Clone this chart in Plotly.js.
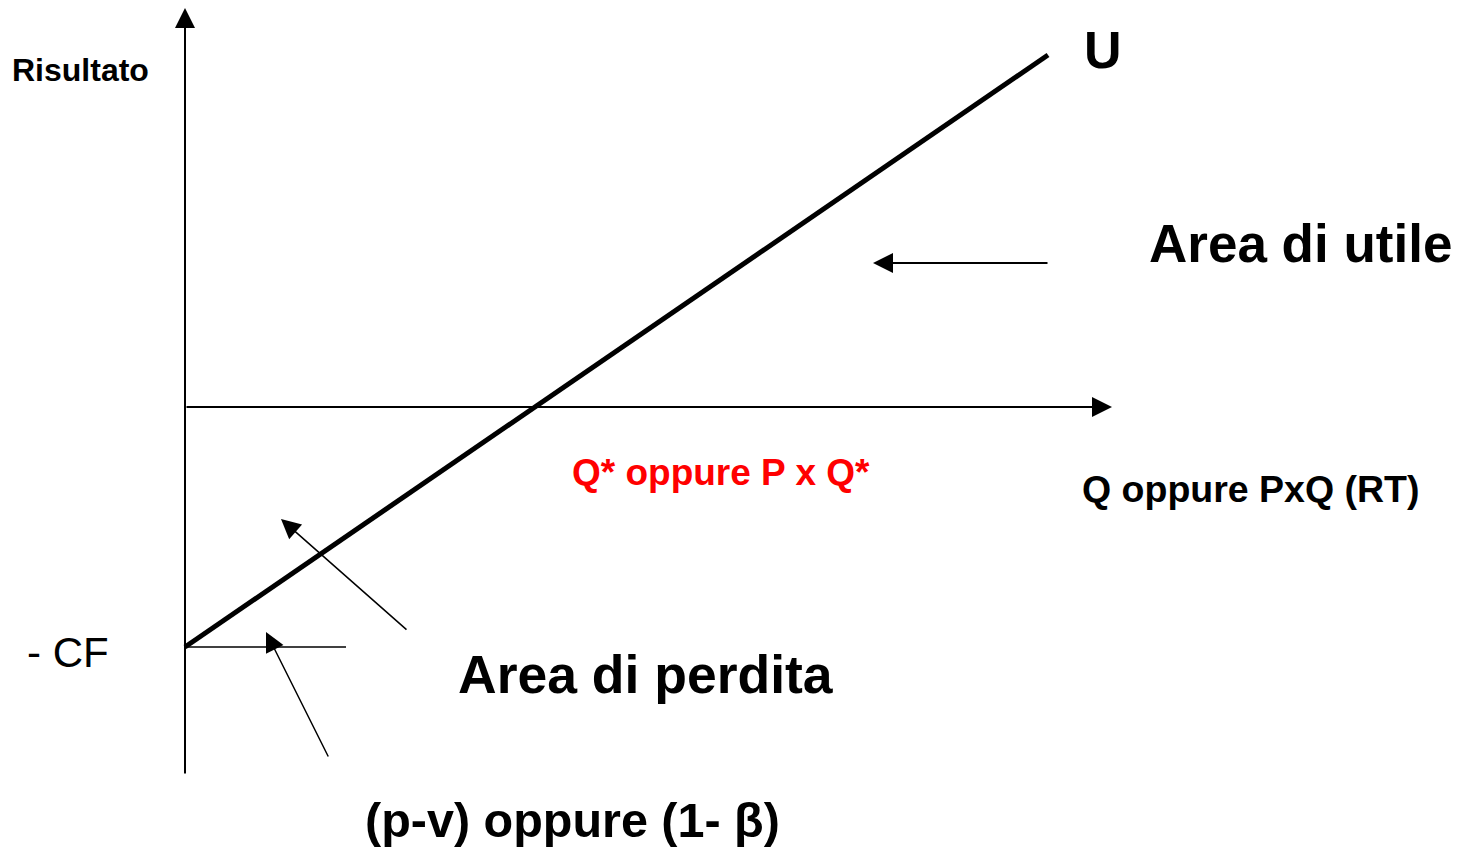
<!DOCTYPE html>
<html>
<head>
<meta charset="utf-8">
<script src="https://cdn.plot.ly/plotly-3.0.1.min.js"></script>
<style>
  html, body { margin: 0; padding: 0; background: #fff; }
  #chart { width: 1459px; height: 848px; }
</style>
</head>
<body>
<div id="chart"></div>
<script>
// break-even diagram: result U = (p-v)Q - CF
var qLine = [0, 863];
var resultLine = [-240, 352];
var cfSegmentQ = [0, 161];
var cfSegmentResult = [-240, -240];
var axisQ = [0, 927];
var axisResult = [-368, 399];

var fontFamily = 'Liberation Sans, Arial, sans-serif';

function label(text, x, y, size, opts) {
  opts = opts || {};
  return {
    x: x, y: y, xref: 'x', yref: 'y',
    text: text, showarrow: false,
    xanchor: 'center', yanchor: 'middle',
    font: { family: fontFamily, size: size, color: opts.color || '#000', weight: opts.weight || 'bold' }
  };
}

function arrow(tailX, tailY, tipX, tipY, width, size) {
  return {
    x: tipX, y: tipY, ax: tailX, ay: tailY,
    xref: 'x', yref: 'y', axref: 'x', ayref: 'y',
    text: '', showarrow: true,
    arrowhead: 2, arrowsize: size || 2, arrowwidth: width || 1.5,
    arrowcolor: '#000', standoff: 0, startstandoff: 0
  };
}

var traces = [
  {
    x: qLine, y: resultLine,
    mode: 'lines', line: { color: '#000', width: 5 },
    hoverinfo: 'skip'
  },
  {
    x: cfSegmentQ, y: cfSegmentResult,
    mode: 'lines', line: { color: '#000', width: 1.5 },
    hoverinfo: 'skip'
  }
];

var annotations = [
  // axes
  arrow(axisQ[0], 0, axisQ[1], 0, 2, 2),
  arrow(0, axisResult[0], 0, axisResult[1], 2, 2),
  // pointers
  arrow(864, 144, 688, 144, 2, 2),
  arrow(223, -224, 96, -112, 1.5, 2.6),
  arrow(144, -351, 81, -225, 1.5, 2.6),
  // texts
  label('Risultato', -105, 337, 32),
  label('U', 918, 357, 52),
  label('Area di utile', 1115, 164, 53),
  label('Q* oppure P x Q*', 536, -65, 37, { color: '#ff0000' }),
  label('Q oppure PxQ (RT)', 1066, -82, 37.5),
  label('- CF', -117, -245, 42, { weight: 'normal' }),
  label('Area di perdita', 461, -267, 53.5),
  label('(p-v) oppure (1- \u03b2)', 387, -413, 48.5)
];

var layout = {
  width: 1459,
  height: 848,
  margin: { l: 0, r: 0, t: 0, b: 0 },
  paper_bgcolor: '#fff',
  plot_bgcolor: '#fff',
  showlegend: false,
  xaxis: { range: [-185, 1274], visible: false, fixedrange: true },
  yaxis: { range: [-441, 407], visible: false, fixedrange: true },
  annotations: annotations
};

Plotly.newPlot('chart', traces, layout, { displayModeBar: false, staticPlot: true });
</script>
</body>
</html>
